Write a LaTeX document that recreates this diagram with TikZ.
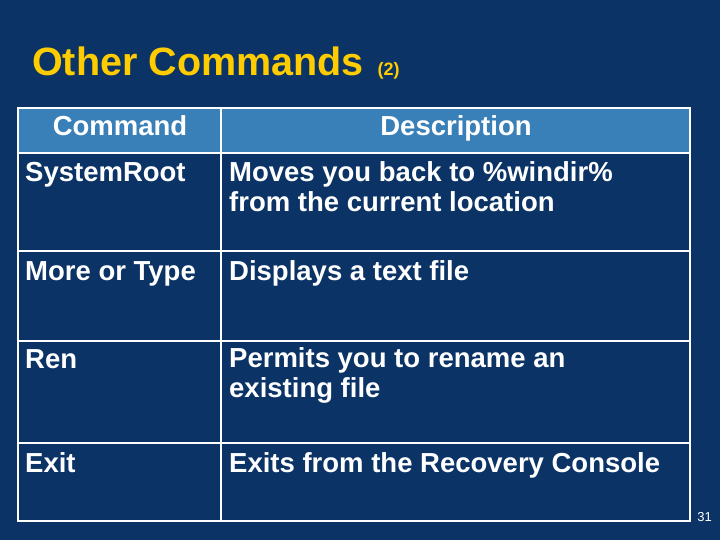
\documentclass[tikz,border=0pt]{standalone}
\usepackage{fontspec}
\setmainfont{Liberation Sans}
\definecolor{bg}{HTML}{0B3366}
\definecolor{hd}{HTML}{3A80B8}
\definecolor{ttl}{HTML}{FFCC00}
\begin{document}
\begin{tikzpicture}[x=1pt,y=-1pt,
 txt/.style={anchor=base west,text=white,font=\bfseries\fontsize{27.5}{30}\selectfont,inner sep=0pt,align=left},
 grid/.style={draw=white,line width=1.5pt}]
\useasboundingbox (0,0) rectangle (720,540);
\fill[bg] (0,0) rectangle (720,540);
\node[anchor=base west,text=ttl,font=\bfseries\fontsize{39.5}{44}\selectfont,inner sep=0pt] (title) at (32,76) {Other Commands {\fontsize{18}{20}\selectfont\,(2)}};
\fill[hd] (18,108) rectangle (690,153);
\draw[grid] (18,108) rectangle (690,521);
\foreach \y in {153,251,341,443} \draw[grid] (18,\y) -- (690,\y);
\draw[grid] (221,108) -- (221,521);
\node[txt,anchor=base] (h1) at (120,136) {Command};
\node[txt,anchor=base] (h2) at (456,136) {Description};
\node[txt] (c1) at (25,182) {SystemRoot};
\node[txt,anchor=north west] (d1) at (229,161) {Moves you back to \%windir\%\\from the current location};
\node[txt] (c2) at (25,280) {More or Type};
\node[txt] (d2) at (229,280) {Displays a text file};
\node[txt] (c3) at (25,368) {Ren};
\node[txt,anchor=north west] (d3) at (229,347) {Permits you to rename an\\existing file};
\node[txt] (c4) at (25,472) {Exit};
\node[txt] (d4) at (229,472) {Exits from the Recovery Console};
\node[anchor=base east,text=white,font=\fontsize{13}{15}\selectfont,inner sep=0pt] (pg) at (712,521) {31};
\end{tikzpicture}
\end{document}
